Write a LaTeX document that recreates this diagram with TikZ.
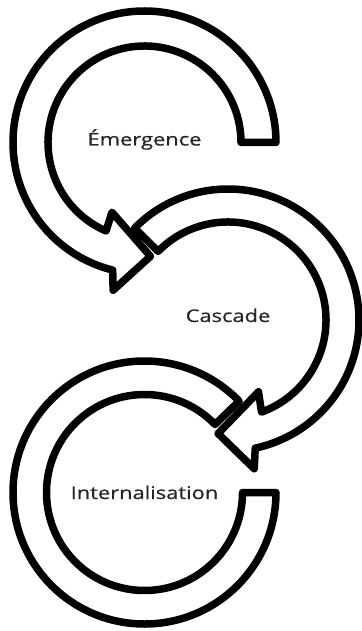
\documentclass[tikz,border=0pt]{standalone}
\usepackage{fontspec}
\setmainfont{Open Sans}
\newfontface\stagefont[FakeBold=0.6]{Open Sans}
\usetikzlibrary{calc}
\tikzset{
  bandarrow/.style={draw=black, line width=7.5pt, line join=round},
  stagelabel/.style={anchor=base, inner sep=0pt, text=black!85, font=\stagefont\fontsize{17.5}{18}\selectfont},
}
\begin{document}
\begin{tikzpicture}[x=1pt,y=-1pt]
\useasboundingbox (0,0) rectangle (361,631);
% Emergence arrow (counter-clockwise on screen)
\begin{scope}[shift={(144.5,142.5)}]
  \draw[bandarrow] (0:131.5) arc[start angle=0, end angle=-256, radius=131.5]
    -- (-258:151) -- (-273:114) -- (-245:77) -- (-246.5:96.5)
    arc[start angle=-246.5, end angle=0, radius=96.5] -- cycle;
  \node[stagelabel] (emergence) at (0,3) {\scalebox{1.25}[1]{Émergence}};
\end{scope}
% Cascade arrow (clockwise on screen)
\begin{scope}[shift={(228,320)}]
  \draw[bandarrow] (-135.5:131) arc[start angle=-135.5, end angle=78, radius=131]
    -- (80:151) -- (95:114) -- (67:78) -- (70:98)
    arc[start angle=70, end angle=-135.5, radius=98] -- cycle;
  \node[stagelabel] (cascade) at (0,2) {\scalebox{1.25}[1]{Cascade}};
\end{scope}
% Internalisation band
\begin{scope}[shift={(144.5,492.5)}]
  \draw[bandarrow] (0:131.5) arc[start angle=0, end angle=316, radius=131.5]
    -- (316:98) arc[start angle=316, end angle=0, radius=98] -- cycle;
  \node[stagelabel] (internalisation) at (0,6.5) {\scalebox{1.25}[1]{Internalisation}};
\end{scope}
\end{tikzpicture}
\end{document}
